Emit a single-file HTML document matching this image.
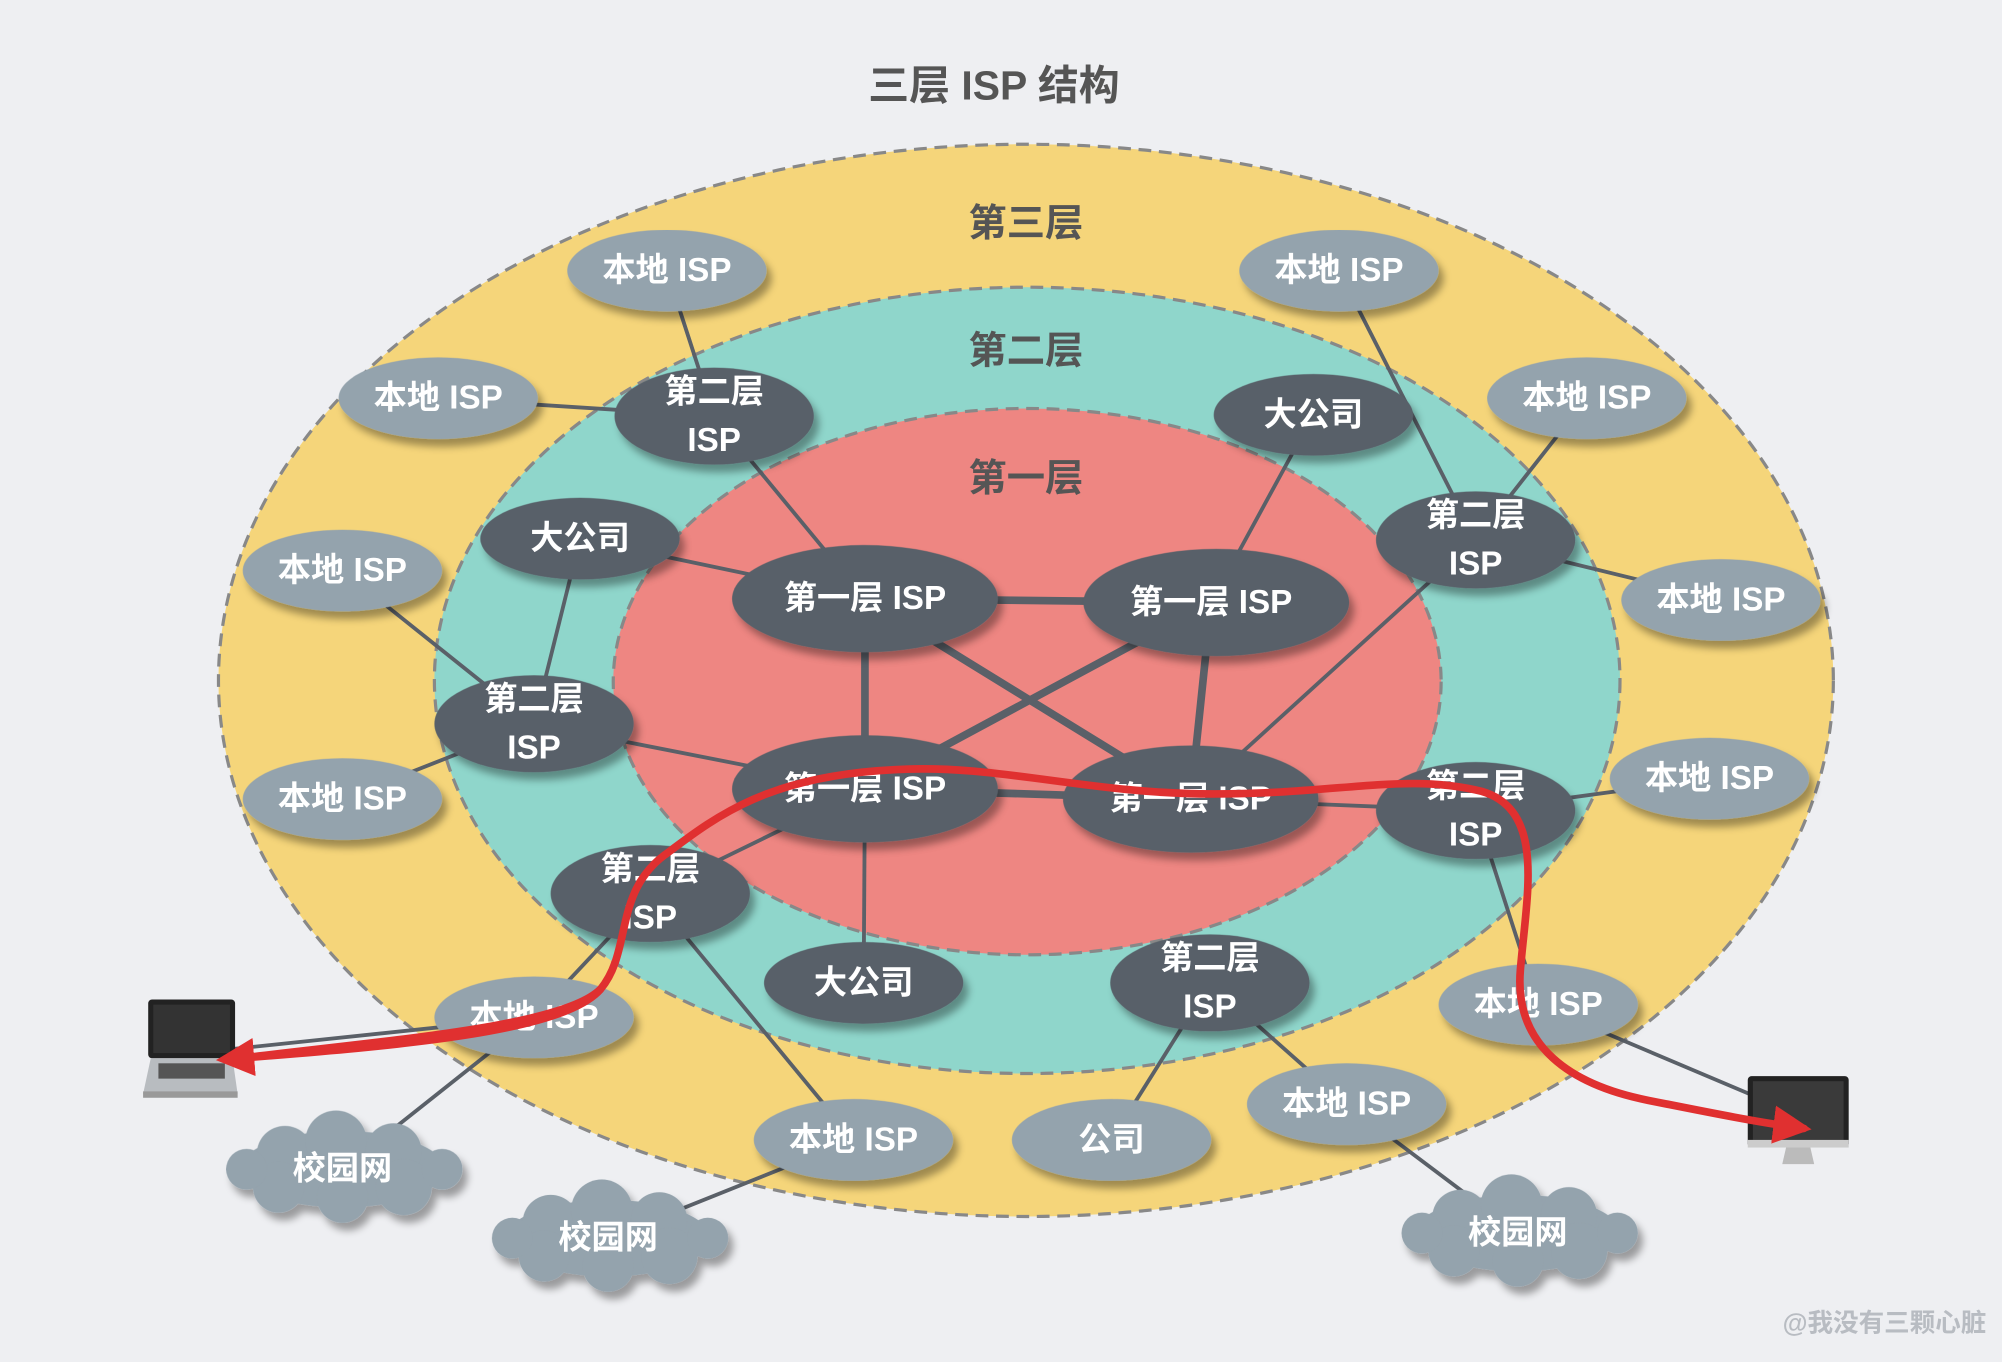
<!DOCTYPE html>
<html><head><meta charset="utf-8">
<style>
html,body{margin:0;padding:0;background:#eeeff2;}
svg{display:block}
text{font-family:"Liberation Sans","Noto Sans CJK SC",sans-serif;font-weight:bold;text-anchor:middle;dominant-baseline:central}
</style></head><body>
<svg width="2002" height="1362" viewBox="0 0 1567 1067" preserveAspectRatio="none" xmlns="http://www.w3.org/2000/svg">
<defs>
<filter id="sh" x="-30%" y="-30%" width="160%" height="170%"><feDropShadow dx="4" dy="6" stdDeviation="3" flood-color="#000" flood-opacity="0.35"/></filter>
<marker id="ar" viewBox="0 0 10 10" refX="8" refY="5" markerWidth="5" markerHeight="5" orient="auto"><path d="M0,0 L10,5 L0,10 z" fill="#e03030"/></marker>
</defs>
<rect x="0" y="0" width="1567" height="1067" fill="#eeeff2"/>
<text x="778" y="67" font-size="32" fill="#555">三层 ISP 结构</text>
<ellipse cx="803" cy="533" rx="632" ry="420" fill="#f5d57a" stroke="#888" stroke-width="2.5" stroke-dasharray="10,6"/>
<ellipse cx="804" cy="533" rx="464" ry="308" fill="#8fd6cb" stroke="#888" stroke-width="2.5" stroke-dasharray="10,6"/>
<ellipse cx="804" cy="534" rx="324" ry="214" fill="#ee8682" stroke="#888" stroke-width="2.5" stroke-dasharray="10,6"/>
<text x="803" y="175" font-size="30" fill="#555">第三层</text>
<text x="803" y="275" font-size="30" fill="#555">第二层</text>
<text x="803" y="375" font-size="30" fill="#555">第一层</text>
<g stroke="#5a6068" stroke-width="6" fill="none">
<line x1="677" y1="469" x2="948" y2="472"/><line x1="677" y1="469" x2="677" y2="618"/>
<line x1="677" y1="469" x2="932" y2="626"/><line x1="948" y1="472" x2="932" y2="626"/>
<line x1="948" y1="472" x2="677" y2="618"/><line x1="677" y1="618" x2="932" y2="626"/>
</g>
<g stroke="#5a6068" stroke-width="3" fill="none">
<line x1="522" y1="212" x2="559" y2="326"/><line x1="343" y1="312" x2="559" y2="326"/>
<line x1="559" y1="326" x2="677" y2="469"/><line x1="454" y1="422" x2="677" y2="469"/>
<line x1="454" y1="422" x2="418" y2="567"/><line x1="268" y1="447" x2="418" y2="567"/>
<line x1="268" y1="626" x2="418" y2="567"/><line x1="418" y1="567" x2="677" y2="618"/>
<line x1="1028" y1="325" x2="948" y2="472"/><line x1="1048" y1="212" x2="1155" y2="423"/>
<line x1="1242" y1="312" x2="1155" y2="423"/><line x1="1155" y1="423" x2="1347" y2="470"/>
<line x1="1155" y1="423" x2="932" y2="626"/><line x1="1155" y1="635" x2="932" y2="626"/>
<line x1="1155" y1="635" x2="1338" y2="610"/><line x1="1155" y1="635" x2="1204" y2="787"/>
<line x1="509" y1="700" x2="677" y2="618"/><line x1="509" y1="700" x2="418" y2="797"/>
<line x1="509" y1="700" x2="668" y2="893"/><line x1="676" y1="770" x2="677" y2="618"/>
<line x1="947" y1="770" x2="870" y2="893"/><line x1="947" y1="770" x2="1054" y2="865"/>
<line x1="1054" y1="865" x2="1188" y2="966"/><line x1="418" y1="797" x2="268" y2="916"/>
<line x1="668" y1="893" x2="476" y2="970"/><line x1="418" y1="797" x2="180" y2="822"/>
<line x1="1204" y1="787" x2="1400" y2="870"/>
</g>
<g filter="url(#sh)">
<g fill="#94a3ad">
<ellipse cx="522" cy="212" rx="78" ry="32"/><ellipse cx="1048" cy="212" rx="78" ry="32"/>
<ellipse cx="343" cy="312" rx="78" ry="32"/><ellipse cx="1242" cy="312" rx="78" ry="32"/>
<ellipse cx="268" cy="447" rx="78" ry="32"/><ellipse cx="1347" cy="470" rx="78" ry="32"/>
<ellipse cx="268" cy="626" rx="78" ry="32"/><ellipse cx="1338" cy="610" rx="78" ry="32"/>
<ellipse cx="418" cy="797" rx="78" ry="32"/><ellipse cx="1204" cy="787" rx="78" ry="32"/>
<ellipse cx="668" cy="893" rx="78" ry="32"/><ellipse cx="1054" cy="865" rx="78" ry="32"/>
<ellipse cx="870" cy="893" rx="78" ry="32"/>
</g>
<g fill="#586169">
<ellipse cx="559" cy="326" rx="78" ry="38"/><ellipse cx="1155" cy="423" rx="78" ry="38"/>
<ellipse cx="418" cy="567" rx="78" ry="38"/><ellipse cx="1155" cy="635" rx="78" ry="38"/>
<ellipse cx="509" cy="700" rx="78" ry="38"/><ellipse cx="947" cy="770" rx="78" ry="38"/>
<ellipse cx="454" cy="422" rx="78" ry="32"/><ellipse cx="1028" cy="325" rx="78" ry="32"/>
<ellipse cx="676" cy="770" rx="78" ry="32"/>
<ellipse cx="677" cy="469" rx="104" ry="42"/><ellipse cx="952" cy="472" rx="104" ry="42"/>
<ellipse cx="677" cy="618" rx="104" ry="42"/><ellipse cx="932" cy="626" rx="100" ry="42"/>
</g>
<g fill="#94a3ad">
<g transform="translate(268,916)"><ellipse cx="0" cy="0" rx="80" ry="30"/><circle cx="-45" cy="-12" r="22"/><circle cx="-5" cy="-22" r="24"/><circle cx="40" cy="-14" r="22"/><circle cx="-50" cy="14" r="20"/><circle cx="0" cy="22" r="20"/><circle cx="48" cy="14" r="22"/><circle cx="-75" cy="0" r="16"/><circle cx="78" cy="0" r="16"/></g>
<g transform="translate(476,970)"><ellipse cx="0" cy="0" rx="80" ry="30"/><circle cx="-45" cy="-12" r="22"/><circle cx="-5" cy="-22" r="24"/><circle cx="40" cy="-14" r="22"/><circle cx="-50" cy="14" r="20"/><circle cx="0" cy="22" r="20"/><circle cx="48" cy="14" r="22"/><circle cx="-75" cy="0" r="16"/><circle cx="78" cy="0" r="16"/></g>
<g transform="translate(1188,966)"><ellipse cx="0" cy="0" rx="80" ry="30"/><circle cx="-45" cy="-12" r="22"/><circle cx="-5" cy="-22" r="24"/><circle cx="40" cy="-14" r="22"/><circle cx="-50" cy="14" r="20"/><circle cx="0" cy="22" r="20"/><circle cx="48" cy="14" r="22"/><circle cx="-75" cy="0" r="16"/><circle cx="78" cy="0" r="16"/></g>
</g>
</g>
<g fill="#fff" font-size="26">
<text x="522" y="212">本地 ISP</text><text x="1048" y="212">本地 ISP</text>
<text x="343" y="312">本地 ISP</text><text x="1242" y="312">本地 ISP</text>
<text x="268" y="447">本地 ISP</text><text x="1347" y="470">本地 ISP</text>
<text x="268" y="626">本地 ISP</text><text x="1338" y="610">本地 ISP</text>
<text x="418" y="797">本地 ISP</text><text x="1204" y="787">本地 ISP</text>
<text x="668" y="893">本地 ISP</text><text x="1054" y="865">本地 ISP</text>
<text x="870" y="893">公司</text>
<text x="559" y="307">第二层</text><text x="559" y="345">ISP</text>
<text x="1155" y="404">第二层</text><text x="1155" y="442">ISP</text>
<text x="418" y="548">第二层</text><text x="418" y="586">ISP</text>
<text x="1155" y="616">第二层</text><text x="1155" y="654">ISP</text>
<text x="509" y="681">第二层</text><text x="509" y="719">ISP</text>
<text x="947" y="751">第二层</text><text x="947" y="789">ISP</text>
<text x="454" y="422">大公司</text><text x="1028" y="325">大公司</text><text x="676" y="770">大公司</text>
<text x="677" y="469">第一层 ISP</text><text x="948" y="472">第一层 ISP</text>
<text x="677" y="618">第一层 ISP</text><text x="932" y="626">第一层 ISP</text>
<text x="268" y="916">校园网</text><text x="476" y="970">校园网</text><text x="1188" y="966">校园网</text>
</g>
<!-- laptop -->
<g>
<rect x="116" y="783" width="68" height="46" rx="3" fill="#222"/>
<rect x="120" y="787" width="60" height="38" fill="#333"/>
<polygon points="118,829 182,829 186,857 112,857" fill="#b8bcc0"/>
<rect x="124" y="833" width="52" height="12" fill="#555"/>
<rect x="112" y="855" width="74" height="5" fill="#999"/>
</g>
<!-- monitor -->
<g>
<rect x="1368" y="843" width="79" height="56" rx="3" fill="#222"/>
<rect x="1372" y="847" width="71" height="46" fill="#3a3a3a"/>
<rect x="1368" y="893" width="79" height="6" fill="#ccc"/>
<polygon points="1398,899 1417,899 1420,912 1395,912" fill="#bbb"/>
</g>
<path d="M180,830 C300,815 440,805 470,775 C495,745 480,700 520,670 C560,640 600,608 700,603 C780,598 850,622 950,622 C1050,622 1100,605 1160,620 C1210,635 1195,700 1190,760 C1185,820 1230,850 1290,862 C1340,872 1380,880 1412,884" fill="none" stroke="#e03030" stroke-width="6" stroke-linecap="round" marker-end="url(#ar)"/>
<path d="M470,775 C440,810 300,820 175,830" fill="none" stroke="#e03030" stroke-width="6" marker-end="url(#ar)"/>
<text x="1475" y="1037" font-size="20" fill="#b8bcc2">@我没有三颗心脏</text>
</svg>
</body></html>
